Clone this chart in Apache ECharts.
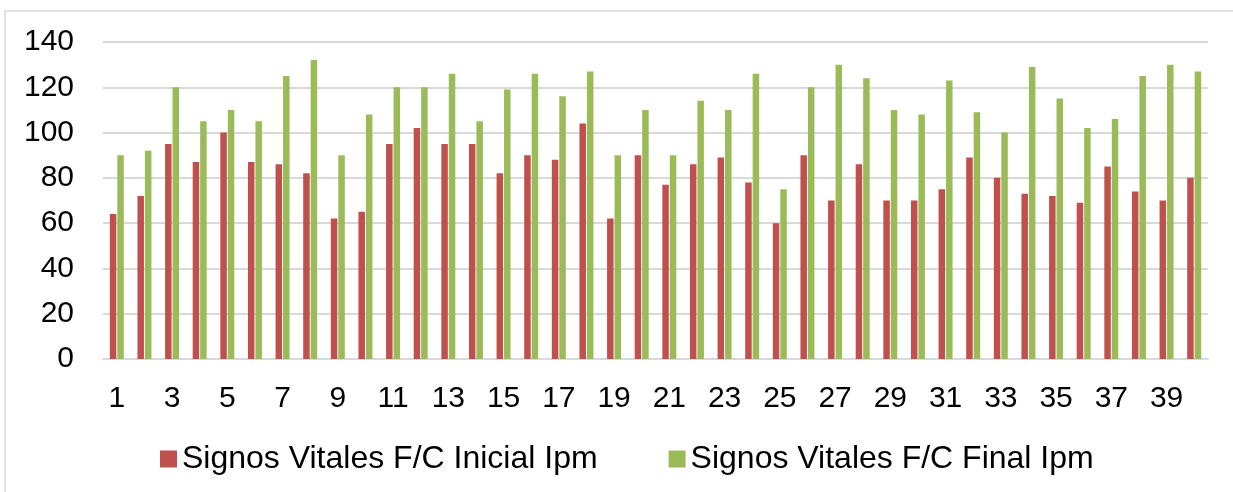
<!DOCTYPE html>
<html>
<head>
<meta charset="utf-8">
<script src="https://cdn.jsdelivr.net/npm/echarts@6/dist/echarts.min.js"></script>
<style>
  html, body { margin: 0; padding: 0; background: #fff; }
  #chart { width: 1233px; height: 492px; }
</style>
</head>
<body>
<div id="chart"></div>
<script>
// patient numbers 1..40
var categories = ["1","2","3","4","5","6","7","8","9","10","11","12","13","14","15","16","17","18","19","20",
  "21","22","23","24","25","26","27","28","29","30","31","32","33","34","35","36","37","38","39","40"];

var inicial = [64, 72, 95, 87, 100, 87, 86, 82, 62, 65, 95, 102, 95, 95, 82, 90, 88, 104, 62, 90,
  77, 86, 89, 78, 60, 90, 70, 86, 70, 70, 75, 89, 80, 73, 72, 69, 85, 74, 70, 80];

var final = [90, 92, 120, 105, 110, 105, 125, 132, 90, 108, 120, 120, 126, 105, 119, 126, 116, 127, 90, 110,
  90, 114, 110, 126, 75, 120, 130, 124, 110, 108, 123, 109, 100, 129, 115, 102, 106, 125, 130, 127];

var yTicks = { min: 0, max: 140, interval: 20 };

var myChart = echarts.init(document.getElementById("chart"));
var font = "'Liberation Sans', Arial, sans-serif";

var option = {
  animation: false,
  graphic: [{
    type: "rect",
    shape: { x: 5, y: 11, width: 1240, height: 500 },
    style: { fill: "none", stroke: "#d9d9d9", lineWidth: 1.5 }
  }],
  grid: { left: 103, right: 25, top: 42, bottom: 133 },
  legend: {
    top: 443,
    left: 160,
    padding: 0,
    itemWidth: 17,
    itemHeight: 17,
    itemGap: 71,
    icon: "rect",
    textStyle: { fontFamily: font, fontSize: 32, color: "#000" },
    data: ["Signos Vitales F/C Inicial Ipm", "Signos Vitales F/C Final Ipm"]
  },
  xAxis: {
    type: "category",
    data: categories,
    axisTick: { show: false },
    axisLine: { lineStyle: { color: "#d9d9d9", width: 2 } },
    axisLabel: { interval: 1, margin: 25, fontFamily: font, fontSize: 30, color: "#000" }
  },
  yAxis: {
    type: "value",
    min: yTicks.min,
    max: yTicks.max,
    interval: yTicks.interval,
    axisLine: { show: false },
    axisTick: { show: false },
    axisLabel: { margin: 29, fontFamily: font, fontSize: 30, color: "#000" },
    splitLine: { lineStyle: { color: "#d9d9d9", width: 2 } }
  },
  series: [
    {
      name: "Signos Vitales F/C Inicial Ipm",
      type: "bar",
      data: inicial,
      barWidth: 6.5,
      barGap: "15%",
      itemStyle: { color: "#c0504d" }
    },
    {
      name: "Signos Vitales F/C Final Ipm",
      type: "bar",
      data: final,
      barWidth: 6.5,
      itemStyle: { color: "#9bbb59" }
    }
  ]
};

myChart.setOption(option);
</script>
</body>
</html>
